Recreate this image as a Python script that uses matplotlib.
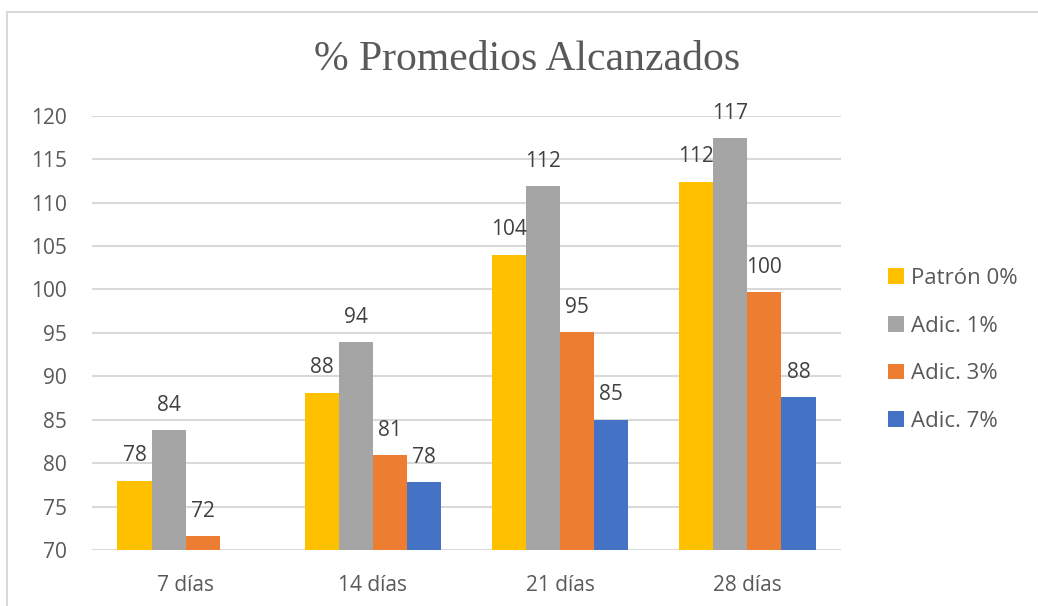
import matplotlib
matplotlib.use("Agg")
import matplotlib.pyplot as plt
import numpy as np
from matplotlib.patches import Rectangle

categories = ["7 días", "14 días", "21 días", "28 días"]
series_names = ["Patrón 0%", "Adic. 1%", "Adic. 3%", "Adic. 7%"]
patron_0 = [78.0, 88.1, 104.0, 112.4]
adic_1 = [83.8, 93.9, 111.9, 117.4]
adic_3 = [71.6, 80.9, 95.1, 99.7]
adic_7 = [69.9, 77.8, 85.0, 87.6]
series_values = [patron_0, adic_1, adic_3, adic_7]
colors = ["#FFC000", "#A5A5A5", "#ED7D31", "#4472C4"]
y_ticks = [70, 75, 80, 85, 90, 95, 100, 105, 110, 115, 120]

TEXT = "#595959"
GRID = "#D9D9D9"
FONT = "Open Sans"
FS = 15

fig = plt.figure(figsize=(10.38, 6.06), dpi=100)
fig.patch.set_facecolor("white")

# chart-area frame
fig.patches.append(Rectangle((7 / 1038, -0.01), 1.02, 1 - 12 / 606 + 0.01,
                             transform=fig.transFigure, fill=False,
                             edgecolor=GRID, linewidth=1.5))

ax = fig.add_axes([92 / 1038, 1 - 550 / 606, (841 - 92) / 1038, (550 - 115.7) / 606])
ax.set_ylim(70, 120)
ax.set_xlim(-0.5, len(categories) - 0.5)

x = np.arange(len(categories))
bw = 0.182
bars = []
for i, (vals, col, name) in enumerate(zip(series_values, colors, series_names)):
    pos = x + (i - 1.5) * bw
    b = ax.bar(pos, vals, width=bw, color=col, label=name, zorder=3)
    bars.append(b)
    for p, v in zip(pos, vals):
        if v >= 70:
            ax.annotate(f"{v:.0f}", (p, v), xytext=(0, 14), textcoords="offset points",
                        ha="center", va="baseline", fontsize=FS, color="#404040",
                        family=FONT, zorder=4)

ax.set_yticks(y_ticks)
ax.yaxis.grid(True, color=GRID, linewidth=1.5, zorder=0)
ax.set_xticks(x)
ax.set_xticklabels(categories)
for s in ax.spines.values():
    s.set_visible(False)
ax.tick_params(axis="both", length=0, labelsize=FS, labelcolor=TEXT)
ax.tick_params(axis="y", pad=18)
ax.tick_params(axis="x", pad=18)
for lab in ax.get_xticklabels() + ax.get_yticklabels():
    lab.set_family(FONT)

fig.text(527 / 1038, 1 - 60 / 606, "% Promedios Alcanzados", ha="center", va="center",
         fontsize=30, color=TEXT, family="Liberation Serif")

fig.legend(handles=bars, loc="center left", bbox_to_anchor=(888 / 1038, 1 - 350 / 606),
           frameon=False, prop={"family": FONT, "size": 16}, labelcolor=TEXT,
           handlelength=0.72, handleheight=0.72, handletextpad=0.3, labelspacing=1.2,
           borderpad=0, borderaxespad=0)

fig.savefig("out.png", dpi=100, facecolor="white")
